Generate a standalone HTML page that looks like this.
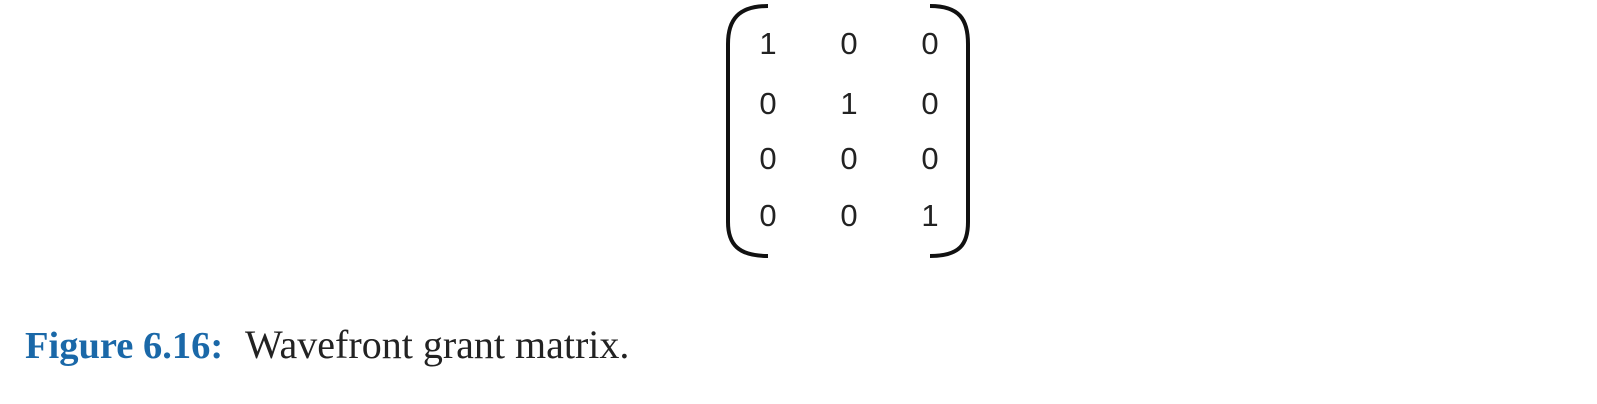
<!DOCTYPE html>
<html><head><meta charset="utf-8"><style>
body{margin:0;width:1597px;height:404px;background:#fff;position:relative;overflow:hidden}
.n{position:absolute;font-family:"Liberation Sans",sans-serif;font-size:31px;color:#222;width:40px;text-align:center;line-height:1}
.cap{position:absolute;font-family:"Liberation Serif",serif;color:#222;white-space:nowrap;line-height:1}
</style></head><body>
<svg width="1597" height="300" style="position:absolute;left:0;top:0">
<path d="M768,6 C738,6 728,20 728,44 L728,222 C728,244 738,256 768,256" fill="none" stroke="#111" stroke-width="4"/>
<path d="M930,6 C960,6 968,20 968,44 L968,222 C968,244 960,256 930,256" fill="none" stroke="#111" stroke-width="4"/>
</svg>
<div id="m"></div>
<div class="cap" style="left:25px;top:327px;font-size:38.5px;font-weight:bold;color:#1a68a8">Figure 6.16:</div>
<div class="cap" style="left:245px;top:325px;font-size:40px">Wavefront grant matrix.</div>
<script>
const rows=[[1,0,0],[0,1,0],[0,0,0],[0,0,1]];
const xs=[768,849,930], ys=[43,103,158,215];
const m=document.getElementById('m');
rows.forEach((r,i)=>r.forEach((v,j)=>{
const d=document.createElement('div');d.className='n';


d.style.left=(xs[j]-20)+'px';d.style.top=(ys[i]-15)+'px';d.textContent=v;m.appendChild(d);}));
</script>
</body></html>
